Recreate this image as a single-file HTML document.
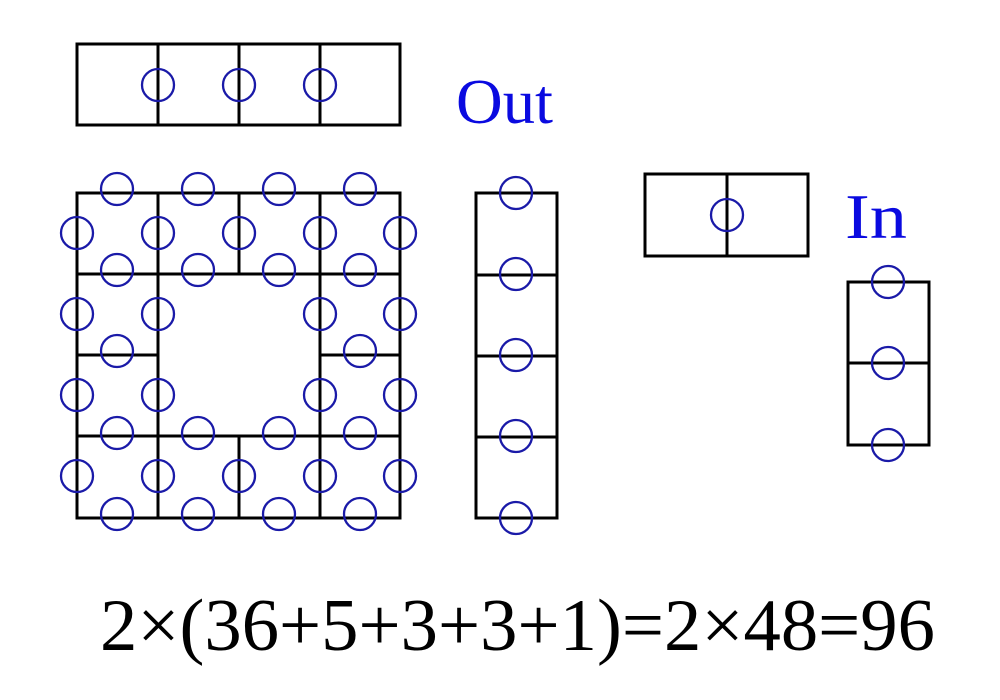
<!DOCTYPE html>
<html><head><meta charset="utf-8"><style>html,body{margin:0;padding:0;background:#fff}svg{display:block}</style></head>
<body>
<svg width="1000" height="700" viewBox="0 0 1000 700" xmlns="http://www.w3.org/2000/svg">
<g fill="none" stroke="#000" stroke-width="3" stroke-linecap="square">
<rect x="77" y="44" width="323" height="81"/>
<line x1="158" y1="44" x2="158" y2="125"/><line x1="239" y1="44" x2="239" y2="125"/><line x1="320" y1="44" x2="320" y2="125"/>
<rect x="77" y="193" width="323" height="325"/>
<line x1="158" y1="193" x2="158" y2="518"/><line x1="320" y1="193" x2="320" y2="518"/>
<line x1="239" y1="193" x2="239" y2="274"/><line x1="239" y1="436" x2="239" y2="518"/>
<line x1="77" y1="274" x2="400" y2="274"/><line x1="77" y1="436" x2="400" y2="436"/>
<line x1="77" y1="355" x2="158" y2="355"/><line x1="320" y1="355" x2="400" y2="355"/>
<rect x="476" y="193" width="81" height="325"/>
<line x1="476" y1="275" x2="557" y2="275"/><line x1="476" y1="356" x2="557" y2="356"/><line x1="476" y1="437" x2="557" y2="437"/>
<rect x="645" y="174" width="163" height="82"/>
<line x1="727" y1="174" x2="727" y2="256"/>
<rect x="848" y="282" width="81" height="163"/>
<line x1="848" y1="363" x2="929" y2="363"/>
</g>
<g fill="none" stroke="#1a1aa8" stroke-width="2.3">
<circle cx="158" cy="85" r="16"/><circle cx="239" cy="85" r="16"/><circle cx="320" cy="85" r="16"/>
<circle cx="117" cy="189" r="16"/><circle cx="198" cy="189" r="16"/><circle cx="279" cy="189" r="16"/><circle cx="360" cy="189" r="16"/>
<circle cx="77" cy="233" r="16"/><circle cx="158" cy="233" r="16"/><circle cx="239" cy="233" r="16"/><circle cx="320" cy="233" r="16"/><circle cx="400" cy="233" r="16"/>
<circle cx="117" cy="270" r="16"/><circle cx="198" cy="270" r="16"/><circle cx="279" cy="270" r="16"/><circle cx="360" cy="270" r="16"/>
<circle cx="77" cy="314" r="16"/><circle cx="158" cy="314" r="16"/><circle cx="320" cy="314" r="16"/><circle cx="400" cy="314" r="16"/>
<circle cx="117" cy="351" r="16"/><circle cx="360" cy="351" r="16"/>
<circle cx="77" cy="395" r="16"/><circle cx="158" cy="395" r="16"/><circle cx="320" cy="395" r="16"/><circle cx="400" cy="395" r="16"/>
<circle cx="117" cy="433" r="16"/><circle cx="198" cy="433" r="16"/><circle cx="279" cy="433" r="16"/><circle cx="360" cy="433" r="16"/>
<circle cx="77" cy="476" r="16"/><circle cx="158" cy="476" r="16"/><circle cx="239" cy="476" r="16"/><circle cx="320" cy="476" r="16"/><circle cx="400" cy="476" r="16"/>
<circle cx="117" cy="514" r="16"/><circle cx="198" cy="514" r="16"/><circle cx="279" cy="514" r="16"/><circle cx="360" cy="514" r="16"/>
<circle cx="516" cy="193" r="16"/><circle cx="516" cy="274" r="16"/><circle cx="516" cy="355" r="16"/><circle cx="516" cy="436" r="16"/><circle cx="516" cy="518" r="16"/>
<circle cx="727" cy="215" r="16"/>
<circle cx="888" cy="282" r="16"/><circle cx="888" cy="363" r="16"/><circle cx="888" cy="445" r="16"/>
</g>
<g fill="#0a0ae0" font-family="'Liberation Serif', serif">
<text x="456" y="123" font-size="64" textLength="97" lengthAdjust="spacingAndGlyphs">Out</text>
<text x="845" y="238" font-size="64" textLength="62" lengthAdjust="spacingAndGlyphs">In</text>
</g>
<text x="100" y="650" font-family="'Liberation Serif', 'Noto Serif CJK SC', serif" font-size="74" fill="#000" textLength="835" lengthAdjust="spacingAndGlyphs">2×(36+5+3+3+1)=2×48=96</text>
</svg>
</body></html>
